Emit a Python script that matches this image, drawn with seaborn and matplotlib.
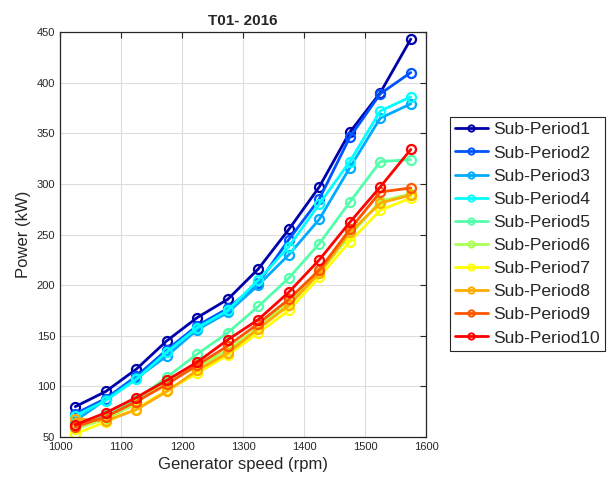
import matplotlib
matplotlib.use("Agg")
import matplotlib.pyplot as plt
import numpy as np
import pandas as pd
import seaborn as sns

# --- data ---
speed = [1025, 1075, 1125, 1175, 1225, 1275, 1325, 1375, 1425, 1475, 1525, 1575]
sp1 = [80, 95, 117, 145, 168, 186, 216, 255, 297, 351, 390, 443]
sp2 = [73, 88, 110, 136, 160, 177, 202, 245, 285, 346, 389, 410]
sp3 = [66, 87, 108, 130, 156, 173, 200, 230, 265, 316, 365, 379]
sp4 = [71, 86, 107, 134, 158, 175, 205, 238, 280, 322, 372, 386]
sp5 = [63, 72, 87, 109, 132, 153, 179, 207, 241, 282, 322, 324]
sp6 = [58, 68, 83, 106, 119, 136, 158, 183, 212, 249, 283, 290]
sp7 = [53, 65, 78, 96, 113, 131, 153, 175, 208, 243, 274, 286]
sp8 = [68, 66, 77, 95, 116, 133, 157, 180, 212, 252, 281, 289]
sp9 = [60, 70, 85, 102, 121, 140, 162, 186, 215, 255, 292, 296]
sp10 = [62, 74, 89, 106, 124, 146, 166, 193, 225, 262, 297, 334]

names = ["Sub-Period%d" % i for i in range(1, 11)]
series = [sp1, sp2, sp3, sp4, sp5, sp6, sp7, sp8, sp9, sp10]
colors = [(0, 0, 0.67), (0, 0.33, 1), (0, 0.67, 1), (0, 1, 1), (0.33, 1, 0.67),
          (0.67, 1, 0.33), (1, 1, 0), (1, 0.67, 0), (1, 0.33, 0), (1, 0, 0)]

df = pd.concat([pd.DataFrame({"speed": speed, "power": s, "period": n})
                for n, s in zip(names, series)], ignore_index=True)

sns.set_style("white")
plt.rcParams["font.family"] = ["Liberation Sans", "DejaVu Sans"]

fig = plt.figure(figsize=(6.1, 4.83), dpi=100)
ax = fig.add_axes([0.0984, 0.0952, 0.6, 0.8385])

sns.lineplot(data=df, x="speed", y="power", hue="period", palette=colors,
             sort=False, marker="o", markersize=6.5, markerfacecolor="none",
             markeredgewidth=1.6, linewidth=2, legend=False, ax=ax)

# seaborn paints marker edges white; give them the line colour
for ln in ax.lines:
    ln.set_markeredgecolor(ln.get_color())
    ln.set_markerfacecolor("none")

ax.set_xlim(1000, 1600)
ax.set_ylim(50, 450)
ax.set_xticks(np.arange(1000, 1601, 100))
ax.set_yticks(np.arange(50, 451, 50))
ax.grid(True, color="#dcdcdc", linewidth=0.8)
ax.set_axisbelow(True)
ax.tick_params(direction="in", top=True, right=True, labelsize=8,
               length=4, color="#262626", labelcolor="#262626")
for sp in ax.spines.values():
    sp.set_color("#262626")
    sp.set_linewidth(0.9)

ax.set_xlabel("Generator speed (rpm)", fontsize=12, color="#262626")
ax.set_ylabel("Power (kW)", fontsize=12, color="#262626")
ax.set_title("T01- 2016", fontsize=11, fontweight="bold", pad=5)

leg = ax.legend(ax.lines[:10], names, loc="upper left",
                bbox_to_anchor=(0.737, 0.758), bbox_transform=fig.transFigure,
                fontsize=12.6, fancybox=False, framealpha=1, edgecolor="#262626",
                handlelength=1.9, handletextpad=0.3, labelspacing=0.45,
                borderpad=0.3, borderaxespad=0)
leg.get_frame().set_linewidth(0.8)
for h in leg.get_lines():
    h.set_markersize(4.5)
    h.set_markeredgewidth(1.4)

fig.savefig("out.png", dpi=100)
